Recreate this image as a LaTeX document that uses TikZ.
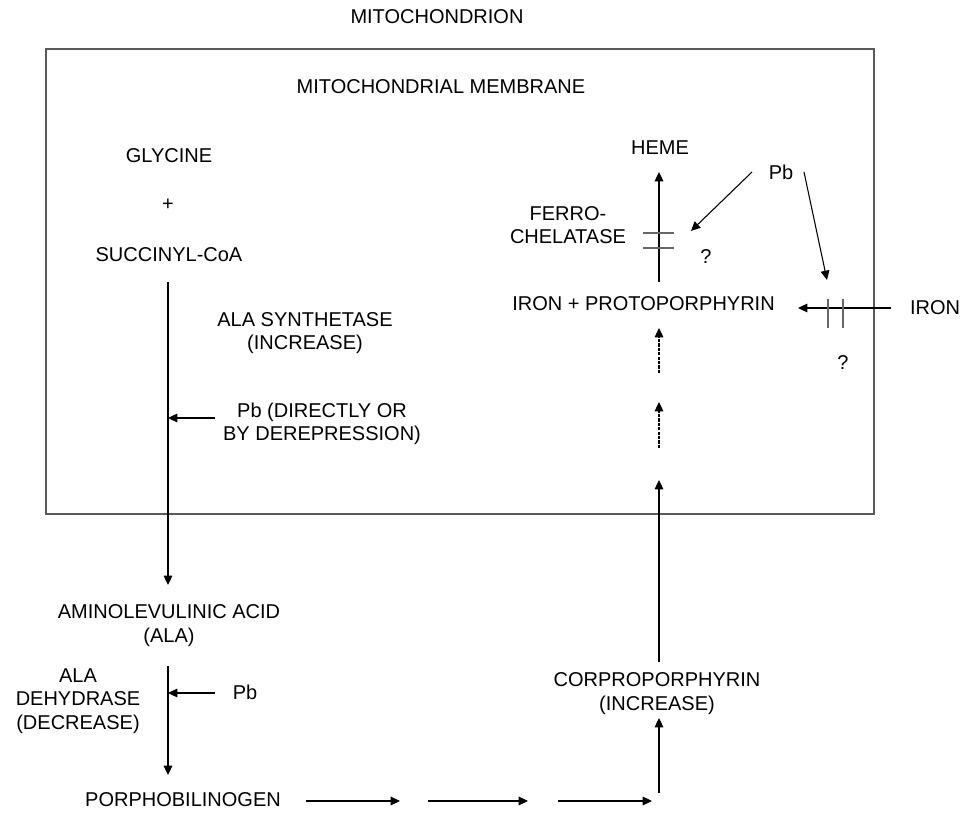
\documentclass[tikz,border=0pt]{standalone}
\usepackage{fontspec}
\setmainfont{Liberation Sans}
\usetikzlibrary{arrows.meta}
\begin{document}
\begin{tikzpicture}[x=0.75pt,y=-0.75pt,
  lbl/.style={font=\fontsize{15}{17.5}\selectfont, inner sep=0pt, align=center},
  conn/.style={draw=black, line width=0.8pt},
  arr/.style={conn, -{Triangle[length=7pt,width=6.5pt]}},
  dasharr/.style={arr, line width=0.9pt, dash pattern=on 2.4pt off 0.9pt},
  membrane/.style={draw=black!65, line width=0.8pt},
  barline/.style={draw=black!60, line width=0.8pt}]
\useasboundingbox (0,0) rectangle (965,813);
% membrane box
\coordinate (boxnw) at (46,49);
\coordinate (boxse) at (874,514);
\draw[membrane] (boxnw) rectangle (boxse);
% labels
\node[lbl] (mito) at (437,17) {MITOCHONDRION};
\node[lbl] (memb) at (441,87) {MITOCHONDRIAL MEMBRANE};
\node[lbl] (gly) at (169,156) {GLYCINE};
\node[lbl] (plus) at (168,205) {+};
\node[lbl] (succ) at (169,255) {SUCCINYL-CoA};
\node[lbl] (alas) at (305,333) {ALA SYNTHETASE\\(INCREASE)};
\node[lbl] (pbone) at (322,423.5) {Pb (DIRECTLY OR\\BY DEREPRESSION)};
\node[lbl] (ala) at (169,625.5) {AMINOLEVULINIC ACID\\(ALA)};
\node[lbl] (alad) at (78,701) {ALA\\DEHYDRASE\\(DECREASE)};
\node[lbl] (pbtwo) at (245,692) {Pb};
\node[lbl] (pbg) at (183,800) {PORPHOBILINOGEN};
\node[lbl] (copro) at (657,693.5) {CORPROPORPHYRIN\\(INCREASE)};
\node[lbl] (ironproto) at (643.5,304) {IRON + PROTOPORPHYRIN};
\node[lbl] (heme) at (660,148) {HEME};
\node[lbl] (ferro) at (568,225) {FERRO-\\CHELATASE};
\node[lbl] (qone) at (706,257) {?};
\node[lbl] (pbthree) at (781,172) {Pb};
\node[lbl] (iron) at (935,308) {IRON};
\node[lbl] (qtwo) at (843,363) {?};
% coordinates of connector ends
\coordinate (sA) at (168,282);
\coordinate (sB) at (168,585);
\coordinate (pA) at (215,418);
\coordinate (pB) at (168,418);
\coordinate (aA) at (168,666);
\coordinate (aB) at (168,775);
\coordinate (qA) at (215,693);
\coordinate (qB) at (168,693);
\coordinate (b1A) at (306,801);
\coordinate (b1B) at (400,801);
\coordinate (b2A) at (428,801);
\coordinate (b2B) at (528,801);
\coordinate (b3A) at (558,801);
\coordinate (b3B) at (652,801);
\coordinate (cA) at (659,793);
\coordinate (cB) at (659,718);
\coordinate (dA) at (659,662);
\coordinate (dB) at (659,480);
\coordinate (eA) at (659,448);
\coordinate (eB) at (659,402);
\coordinate (fA) at (659,373);
\coordinate (fB) at (659,328);
\coordinate (hA) at (659,282);
\coordinate (hB) at (659,172);
\coordinate (gA) at (752,172);
\coordinate (gB) at (691,231);
\coordinate (kA) at (804,172);
\coordinate (kB) at (827,280);
\coordinate (iA) at (891,308);
\coordinate (iB) at (798,308);
% connectors
\draw[arr] (sA) -- (sB);
\draw[arr] (pA) -- (pB);
\draw[arr] (aA) -- (aB);
\draw[arr] (qA) -- (qB);
\draw[arr] (b1A) -- (b1B);
\draw[arr] (b2A) -- (b2B);
\draw[arr] (b3A) -- (b3B);
\draw[arr] (cA) -- (cB);
\draw[arr] (dA) -- (dB);
\draw[dasharr] (eA) -- (eB);
\draw[dasharr] (fA) -- (fB);
\draw[arr] (hA) -- (hB);
\draw[arr] (gA) -- (gB);
\draw[arr] (kA) -- (kB);
\draw[arr] (iA) -- (iB);
% blocking bars
\draw[barline] (643,233) -- (674,233);
\draw[barline] (643,248) -- (674,248);
\draw[barline] (828,299) -- (828,328);
\draw[barline] (843,299) -- (843,328);
\end{tikzpicture}
\end{document}
